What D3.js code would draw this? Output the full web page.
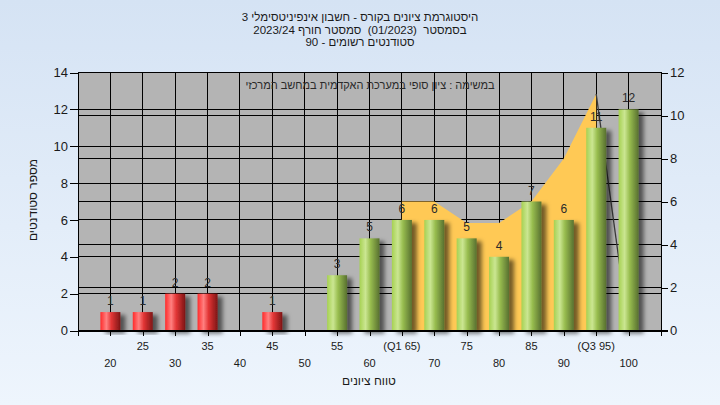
<!DOCTYPE html>
<html><head><meta charset="utf-8">
<script src="https://cdn.jsdelivr.net/npm/d3@7"></script>
<style>
html,body{margin:0;padding:0;background:#fff;}
svg{display:block;font-family:"Liberation Sans",Arial,sans-serif;}
.pre{white-space:pre;}
</style></head>
<body><svg id="c" width="720" height="405"></svg>
<script>
// ---- data ----
const grades = [20,25,30,35,40,45,50,55,60,65,70,75,80,85,90,95,100];
const counts = [1,1,2,2,0,1,0,3,5,6,6,5,4,7,6,11,12];
const tickLabels = ["20","25","30","35","40","45","50","55","60","(Q1 65)","70","75","80","85","90","(Q3 95)","100"];
const leftTicks = [0,2,4,6,8,10,12,14];
const rightTicks = [0,2,4,6,8,10,12];
const areaGrades = [65,70,75,80,85,90,95];
const areaValues = [6,6,5,5,6,8,11];
const tailGrades = [95,100];
const tailValues = [11,0];
const passGrade = 55;
const titleLines = ["היסטוגרמת ציונים בקורס - חשבון אינפיניטסימלי 3","בסמסטר  (01/2023)  סמסטר חורף 2023/24","סטודנטים רשומים - 90"];
const innerTitle = "במשימה : ציון סופי במערכת האקדמית במחשב המרכזי";
const yTitle = "מספר סטודנטים";
const xTitle = "טווח ציונים";

// ---- chart ----
const svg = d3.select("#c");
const L=78,R=661,T=72.5,B=330.5;
const x = d3.scaleLinear().domain([15,105]).range([L,R]);
const yL = d3.scaleLinear().domain([0,14]).range([B,T]);
const yR = d3.scaleLinear().domain([0,12]).range([B,T]);

const defs = svg.append("defs");
const bg = defs.append("linearGradient").attr("id","bg").attr("x1",0).attr("y1",0).attr("x2",0).attr("y2",1);
bg.append("stop").attr("offset","0%").attr("stop-color","#d5e3f4");
bg.append("stop").attr("offset","100%").attr("stop-color","#eef5fd");
function barGrad(id, c){
  const g = defs.append("linearGradient").attr("id",id).attr("x1",0).attr("y1",0).attr("x2",1).attr("y2",0);
  c.forEach(([o,col])=>g.append("stop").attr("offset",o).attr("stop-color",col));
}
barGrad("gRed",[["0%","#ff2a2a"],["30%","#ff8080"],["55%","#e23535"],["100%","#7d1616"]]);
barGrad("gGreen",[["0%","#a6d152"],["30%","#cbe692"],["55%","#98bd4f"],["100%","#587030"]]);
const f = defs.append("filter").attr("id","sh").attr("x","-50%").attr("y","-20%").attr("width","200%").attr("height","140%");
f.append("feDropShadow").attr("dx",5).attr("dy",3).attr("stdDeviation",2.2).attr("flood-color","#000").attr("flood-opacity",0.55);

svg.append("rect").attr("width",720).attr("height",405).attr("fill","url(#bg)");
svg.append("rect").attr("x",L).attr("y",T).attr("width",R-L).attr("height",B-T).attr("fill","#b4b4b4");

// gridlines
const grid = svg.append("g").attr("stroke","#000").attr("stroke-width",1).attr("shape-rendering","crispEdges");
leftTicks.forEach(t=>grid.append("line").attr("x1",L).attr("x2",R).attr("y1",yL(t)).attr("y2",yL(t)));
rightTicks.forEach(t=>grid.append("line").attr("x1",L).attr("x2",R).attr("y1",yR(t)).attr("y2",yR(t)));
grades.forEach(g=>grid.append("line").attr("x1",x(g)).attr("x2",x(g)).attr("y1",T).attr("y2",B));

// yellow area (right axis)
const area = d3.area().x((d,i)=>x(areaGrades[i])).y0(yR(0)).y1(d=>yR(d));
svg.append("path").datum(areaValues).attr("d",area).attr("fill","#ffc955");
const line = d3.line().x((d,i)=>x(tailGrades[i])).y(d=>yR(d));
svg.append("path").datum(tailValues).attr("d",line).attr("fill","none").attr("stroke","#3a3a3a").attr("stroke-width",1.3);

// bars
const bw = 20;
svg.append("g").selectAll("rect").data(grades).join("rect")
  .attr("x",g=>x(g)-bw/2).attr("width",bw)
  .attr("y",(g,i)=>yL(counts[i])).attr("height",(g,i)=>B-yL(counts[i]))
  .attr("fill",g=>g<passGrade?"url(#gRed)":"url(#gGreen)")
  .attr("filter","url(#sh)");

// bar labels
svg.append("g").selectAll("text").data(grades.filter((g,i)=>counts[i]>0)).join("text")
  .attr("x",g=>x(g)).attr("y",g=>yL(counts[grades.indexOf(g)])-7)
  .attr("text-anchor","middle").attr("font-size",12).attr("fill","#2a2a2a")
  .text(g=>counts[grades.indexOf(g)]);

// plot border
svg.append("rect").attr("x",L).attr("y",T).attr("width",R-L).attr("height",B-T).attr("fill","none").attr("stroke","#000").attr("shape-rendering","crispEdges");

// axes
const axL = d3.axisLeft(yL).tickValues(leftTicks).tickSize(8).tickPadding(2).tickFormat(d3.format("d"));
const gL = svg.append("g").attr("transform",`translate(${L},0)`).call(axL);
const axR = d3.axisRight(yR).tickValues(rightTicks).tickSize(7).tickPadding(2).tickFormat(d3.format("d"));
const gR = svg.append("g").attr("transform",`translate(${R},0)`).call(axR);
const axB = d3.axisBottom(x).tickValues(grades).tickSize(5).tickFormat("");
const gB = svg.append("g").attr("transform",`translate(0,${B})`).call(axB);
[gL,gR,gB].forEach(g=>{
  g.selectAll("path,line").attr("stroke","#000").attr("shape-rendering","crispEdges");
  g.selectAll("text").attr("font-size",13).attr("fill","#1a1a1a").attr("font-family","Liberation Sans, Arial, sans-serif");
});
svg.append("line").attr("x1",L).attr("x2",R+7).attr("y1",B).attr("y2",B).attr("stroke","#000").attr("shape-rendering","crispEdges");

// x labels alternating rows
svg.append("g").selectAll("text").data(grades).join("text")
  .attr("x",g=>x(g)).attr("y",(g,i)=>i%2===0?367:350)
  .attr("text-anchor","middle").attr("font-size",11).attr("fill","#1a1a1a")
  .text((g,i)=>tickLabels[i]);

// titles
svg.append("g").selectAll("text").data(titleLines).join("text")
  .attr("class","pre")
  .attr("x",360).attr("y",(d,i)=>21+i*12.5).attr("text-anchor","middle")
  .attr("direction","rtl")
  .attr("font-size",11.5).attr("fill","#1a1a1a").text(d=>d);
svg.append("text").attr("x",370).attr("y",89).attr("text-anchor","middle").attr("direction","rtl")
  .attr("font-size",11).attr("fill","#2a2a2a").text(innerTitle);
svg.append("text").attr("transform","translate(37,200) rotate(-90)").attr("text-anchor","middle").attr("direction","rtl")
  .attr("font-size",12).attr("fill","#1a1a1a").text(yTitle);
svg.append("text").attr("x",369).attr("y",385).attr("text-anchor","middle").attr("direction","rtl")
  .attr("font-size",12).attr("fill","#1a1a1a").text(xTitle);
</script></body></html>
